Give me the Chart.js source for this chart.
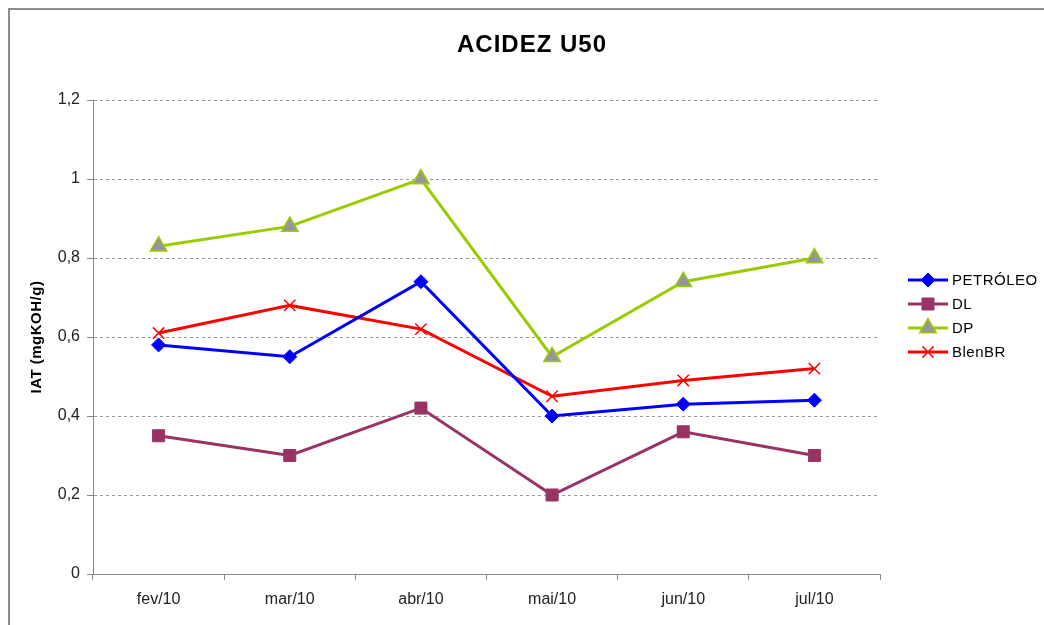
<!DOCTYPE html>
<html>
<head>
<meta charset="utf-8">
<script src="https://cdn.jsdelivr.net/npm/chart.js@4/dist/chart.umd.min.js"></script>
<style>
  body { margin: 0; background: #fff; }
  #wrap { position: relative; width: 1044px; height: 625px; overflow: hidden; }
  #frame { position: absolute; left: 8px; top: 8px; width: 1100px; height: 700px;
           border-left: 2px solid #8c8c8c; border-top: 2px solid #8c8c8c; pointer-events: none; }
</style>
</head>
<body>
<div id="wrap">
  <canvas id="acidez" width="1044" height="625"></canvas>
  <div id="frame"></div>
</div>
<script>
'use strict';

var meses = ['fev/10', 'mar/10', 'abr/10', 'mai/10', 'jun/10', 'jul/10'];
var petroleo = [0.58, 0.55, 0.74, 0.40, 0.43, 0.44];
var dl = [0.35, 0.30, 0.42, 0.20, 0.36, 0.30];
var dp = [0.83, 0.88, 1.00, 0.55, 0.74, 0.80];
var blenbr = [0.61, 0.68, 0.62, 0.45, 0.49, 0.52];

var FONTE = "'Liberation Sans', Arial, sans-serif";

/* titulo + legenda desenhados a mao */
var extras = {
  id: 'extras',
  afterDraw: function(chart) {
    var ctx = chart.ctx;
    ctx.save();
    ctx.fillStyle = '#000';
    ctx.font = 'bold 24px ' + FONTE;
    ctx.textAlign = 'center';
    ctx.textBaseline = 'middle';
    ctx.letterSpacing = '1px';
    ctx.fillText('ACIDEZ U50', 532, 45);
    ctx.letterSpacing = '0px';

    // eixo y titulo
    ctx.save();
    ctx.translate(37, 337);
    ctx.rotate(-Math.PI / 2);
    ctx.font = 'bold 15px ' + FONTE;
    ctx.letterSpacing = '0.5px';
    ctx.fillText('IAT (mgKOH/g)', 0, 0);
    ctx.restore();

    ctx.font = '15px ' + FONTE;
    ctx.textAlign = 'left';
    chart.data.datasets.forEach(function(ds, i) {
      var y = 280 + i * 24;
      ctx.strokeStyle = ds.borderColor;
      ctx.lineWidth = 3;
      ctx.beginPath();
      ctx.moveTo(908, y);
      ctx.lineTo(948, y);
      ctx.stroke();
      ctx.fillStyle = ds.pointBackgroundColor;
      ctx.strokeStyle = ds.pointBorderColor;
      ctx.lineWidth = ds.pointBorderWidth;
      Chart.helpers.drawPoint(ctx, {
        pointStyle: ds.pointStyle, radius: ds.pointRadius, rotation: 0,
        borderWidth: ds.pointBorderWidth
      }, 928, y);
      ctx.fillStyle = '#000';
      ctx.letterSpacing = '0.5px';
      ctx.fillText(ds.label, 952, y + 1);
      ctx.letterSpacing = '0px';
    });
    ctx.restore();
  }
};

function serie(label, data, cor, estilo, raio, fundo, borda, bw) {
  return {
    label: label, data: data, borderColor: cor, borderWidth: 3,
    pointStyle: estilo, pointRadius: raio, pointHoverRadius: raio,
    pointBackgroundColor: fundo, pointBorderColor: borda, pointBorderWidth: bw,
    tension: 0, fill: false
  };
}

new Chart(document.getElementById('acidez'), {
  type: 'line',
  data: {
    labels: meses,
    datasets: [
      serie('PETRÓLEO', petroleo, '#0000ff', 'rectRot', 7, '#0000ff', '#0000ff', 1),
      serie('DL', dl, '#993366', 'rect', 8.5, '#993366', '#993366', 1),
      serie('DP', dp, '#99cc00', 'triangle', 9.5, '#969696', '#99cc00', 1.5),
      serie('BlenBR', blenbr, '#ff0000', 'crossRot', 8, '#ff0000', '#ff0000', 1.5)
    ]
  },
  options: {
    responsive: false,
    animation: false,
    layout: { padding: { top: 100, right: 164, left: 0, bottom: 0 } },
    plugins: { legend: { display: false }, title: { display: false }, tooltip: { enabled: false } },
    scales: {
      x: {
        offset: true,
        grid: { offset: true, drawOnChartArea: false, drawTicks: true, tickLength: 6, color: '#888' },
        border: { color: '#888', width: 1 },
        ticks: { color: '#222', padding: 10, font: { family: FONTE, size: 16 }, maxRotation: 0 },
        afterFit: function(s) { s.height = 51; }
      },
      y: {
        min: 0, max: 1.2,
        grid: { color: '#9a9a9a', tickLength: 6, tickColor: '#888', tickBorderDash: [] },
        border: { color: '#888', width: 1, dash: [3, 3] },
        ticks: {
          stepSize: 0.2, color: '#222', padding: 7, font: { family: FONTE, size: 16 },
          callback: function(v) { return (Math.round(v * 10) / 10).toString().replace('.', ','); }
        },
        afterFit: function(s) { s.width = 93; }
      }
    }
  },
  plugins: [extras]
});
</script>
</body>
</html>
